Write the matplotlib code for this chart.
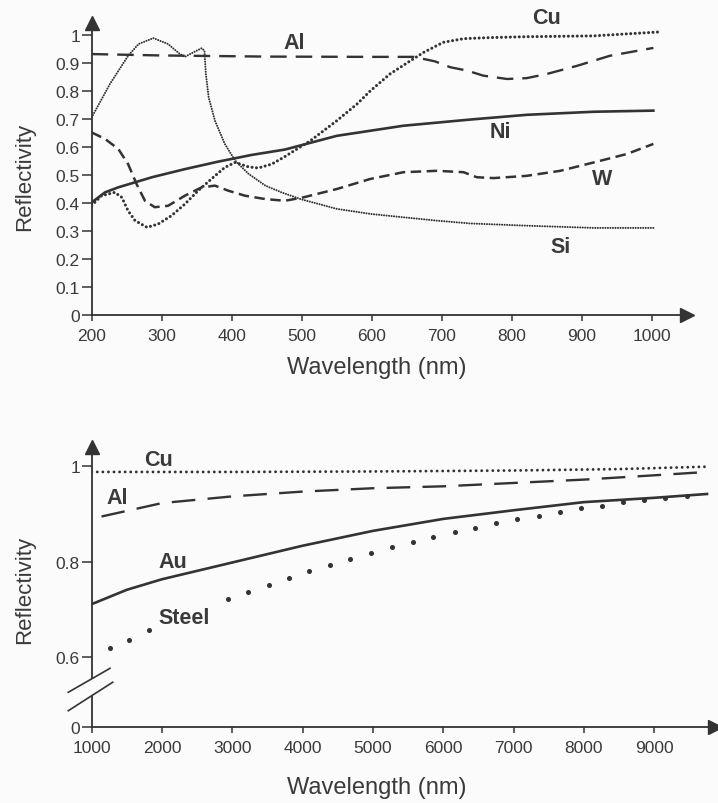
import numpy as np
import matplotlib.pyplot as plt

plt.rcParams['font.family'] = ['Liberation Sans', 'DejaVu Sans']

# --- top panel data (wavelength in nm, reflectivity) ---
al_x = [200, 300, 450, 600, 660, 690, 712, 736, 759, 793, 821, 850, 893, 940, 1002]
al_y = [0.931, 0.926, 0.922, 0.921, 0.921, 0.905, 0.884, 0.872, 0.854, 0.842, 0.845, 0.86, 0.889, 0.925, 0.953]

cu_x = [200, 214, 233, 243, 252, 262, 279, 295, 314, 333, 352, 371, 390, 405, 424, 438,
        457, 474, 512, 550, 579, 598, 626, 655, 674, 702, 731, 770, 821, 917, 1010]
cu_y = [0.39, 0.425, 0.437, 0.419, 0.371, 0.336, 0.312, 0.324, 0.354, 0.395, 0.443, 0.485,
        0.526, 0.544, 0.528, 0.524, 0.538, 0.562, 0.621, 0.693, 0.753, 0.8, 0.86, 0.907,
        0.937, 0.973, 0.986, 0.99, 0.993, 0.996, 1.01]

ni_x = [200, 219, 238, 286, 333, 381, 429, 476, 550, 645, 740, 821, 917, 1002]
ni_y = [0.401, 0.437, 0.455, 0.491, 0.52, 0.547, 0.571, 0.59, 0.639, 0.675, 0.697, 0.714, 0.725, 0.729]

w_x = [200, 219, 238, 252, 264, 276, 290, 309, 333, 357, 376, 395, 419, 448, 476, 502,
       550, 598, 645, 693, 731, 750, 774, 821, 869, 917, 964, 1002]
w_y = [0.651, 0.628, 0.592, 0.538, 0.467, 0.407, 0.384, 0.389, 0.425, 0.455, 0.461, 0.443,
       0.425, 0.413, 0.407, 0.419, 0.449, 0.485, 0.509, 0.514, 0.509, 0.491, 0.488, 0.496,
       0.514, 0.544, 0.574, 0.61]

si_x = [200, 226, 252, 267, 288, 309, 326, 333, 345, 357, 361, 363, 367, 376, 390, 405,
        424, 448, 471, 498, 550, 598, 645, 693, 740, 821, 917, 1005]
si_y = [0.705, 0.824, 0.925, 0.967, 0.988, 0.967, 0.931, 0.921, 0.937, 0.952, 0.943, 0.86,
        0.776, 0.693, 0.61, 0.55, 0.503, 0.461, 0.437, 0.413, 0.378, 0.36, 0.348, 0.336,
        0.326, 0.318, 0.31, 0.31]

# --- bottom panel data ---
cu2_x = [1000, 3000, 5000, 7000, 8500, 9750]
cu2_y = [0.987, 0.987, 0.988, 0.99, 0.993, 0.998]

al2_x = [1140, 2000, 3000, 4000, 5000, 6000, 7000, 8000, 9000, 9750]
al2_y = [0.894, 0.922, 0.936, 0.946, 0.953, 0.957, 0.964, 0.971, 0.98, 0.987]

au_x = [1000, 1500, 2000, 3000, 4000, 5000, 6000, 7000, 8000, 9000, 9750]
au_y = [0.711, 0.741, 0.763, 0.798, 0.833, 0.864, 0.889, 0.907, 0.924, 0.933, 0.941]

steel_x = [1260, 1535, 1815, 2943, 3227, 3517, 3806, 4095, 4389, 4673, 4972, 5266, 5565,
           5858, 6162, 6455, 6754, 7052, 7356, 7659, 7958, 8261, 8560, 8858, 9157, 9461]
steel_y = [0.619, 0.637, 0.656, 0.722, 0.737, 0.752, 0.766, 0.78, 0.793, 0.805, 0.818, 0.83,
           0.84, 0.852, 0.861, 0.871, 0.88, 0.889, 0.896, 0.904, 0.911, 0.916, 0.924, 0.928,
           0.932, 0.936]

top_xticks = [200, 300, 400, 500, 600, 700, 800, 900, 1000]
top_yticks = [0, 0.1, 0.2, 0.3, 0.4, 0.5, 0.6, 0.7, 0.8, 0.9, 1]
top_ylabels = ['0', '0.1', '0.2', '0.3', '0.4', '0.5', '0.6', '0.7', '0.8', '0.9', '1']
bot_xticks = [1000, 2000, 3000, 4000, 5000, 6000, 7000, 8000, 9000]
bot_ylabels = ['0', '0.6', '0.8', '1']

ink = '#333333'
txt = '#3a3a3a'
bg = '#fbfbfb'

fig = plt.figure(figsize=(7.18, 8.04), dpi=100, facecolor=bg)
W, H = 718, 804


def style_axes(ax):
    ax.set_facecolor('none')
    for s in ['top', 'right']:
        ax.spines[s].set_visible(False)
    for s in ['left', 'bottom']:
        ax.spines[s].set_color(ink)
        ax.spines[s].set_linewidth(1.3)
    ax.tick_params(axis='x', direction='out', length=4.5, width=1.1, color=ink,
                   labelsize=12.5, labelcolor=txt, pad=5)
    ax.tick_params(axis='y', direction='out', length=7, width=1.1, color=ink,
                   labelsize=12.5, labelcolor=txt, pad=1.5)
    ax.plot(1, 0, '>', color=ink, ms=10, transform=ax.transAxes, clip_on=False)
    ax.plot(0, 1, '^', color=ink, ms=10, transform=ax.transAxes, clip_on=False)


# ---------------- top panel ----------------
ax1 = fig.add_axes([91.7 / W, 1 - 315.7 / H, 595.3 / W, 291.7 / H])
style_axes(ax1)
ax1.set_xlim(200, 1050)
ax1.set_ylim(0, 1.042)

ax1.plot(al_x, al_y, color=ink, lw=1.7, linestyle=(0, (7, 3.8)))
ax1.plot(cu_x, cu_y, color=ink, lw=2.2, linestyle=(0, (0.01, 1.45)), dash_capstyle='round')
ax1.plot(ni_x, ni_y, color=ink, lw=1.9)
ax1.plot(w_x, w_y, color=ink, lw=1.8, linestyle=(0, (4.2, 2.2)))
ax1.plot(si_x, si_y, color=ink, lw=1.5, linestyle=(0, (0.01, 1.2)), dash_capstyle='round')

ax1.set_xticks(top_xticks)
ax1.set_yticks(top_yticks)
ax1.set_yticklabels(top_ylabels)

lab = dict(fontsize=15.5, fontweight='bold', color=txt, ha='center', va='center')
ax1.text(489, 0.974, 'Al', **lab)
ax1.text(850, 1.063, 'Cu', **lab)
ax1.text(783, 0.656, 'Ni', **lab)
ax1.text(929, 0.488, 'W', **lab)
ax1.text(869, 0.245, 'Si', **lab)

fig.text(377 / W, 1 - 368 / H, 'Wavelength (nm)', fontsize=17, color=txt, ha='center', va='center')
fig.text(25 / W, 1 - 177 / H, 'Reflectivity', fontsize=16, color=txt, ha='center', va='center',
         rotation=90)

# ---------------- bottom panel (broken y axis) ----------------
y0 = 0.4539  # position where "0" is drawn below the break
ax2 = fig.add_axes([91.7 / W, 1 - 728.3 / H, 622.8 / W, 280.6 / H])
style_axes(ax2)
ax2.spines['left'].set_visible(False)
ax2.plot([0, 0], [0.555, 1.0397], color=ink, lw=1.3, transform=ax2.get_yaxis_transform(),
         clip_on=False, solid_capstyle='butt')
ax2.plot([0, 0], [y0, 0.52], color=ink, lw=1.3, transform=ax2.get_yaxis_transform(),
         clip_on=False, solid_capstyle='butt')
ax2.plot([667, 1260], [0.527, 0.577], color=ink, lw=1.2, clip_on=False)
ax2.plot([667, 1299], [0.4885, 0.548], color=ink, lw=1.2, clip_on=False)
ax2.set_xlim(1000, 9856)
ax2.set_ylim(y0, 1.0397)

ax2.plot(cu2_x, cu2_y, color=ink, lw=2.1, linestyle=(0, (0.01, 1.9)), dash_capstyle='round')
ax2.plot(al2_x, al2_y, color=ink, lw=1.7, linestyle=(0, (10, 5.2)))
ax2.plot(au_x, au_y, color=ink, lw=1.9)
ax2.plot(steel_x, steel_y, 'o', color=ink, ms=2.6, lw=0)

ax2.set_xticks(bot_xticks)
ax2.set_yticks([y0, 0.6, 0.8, 1.0])
ax2.set_yticklabels(bot_ylabels)

ax2.text(1943, 1.014, 'Cu', **lab)
ax2.text(1360, 0.933, 'Al', **lab)
ax2.text(2156, 0.801, 'Au', **lab)
ax2.text(2312, 0.684, 'Steel', **lab)

fig.text(377 / W, 1 - 788 / H, 'Wavelength (nm)', fontsize=17, color=txt, ha='center', va='center')
fig.text(25 / W, 1 - 590 / H, 'Reflectivity', fontsize=16, color=txt, ha='center', va='center',
         rotation=90)

fig.savefig('out.png', dpi=100, facecolor=bg)
